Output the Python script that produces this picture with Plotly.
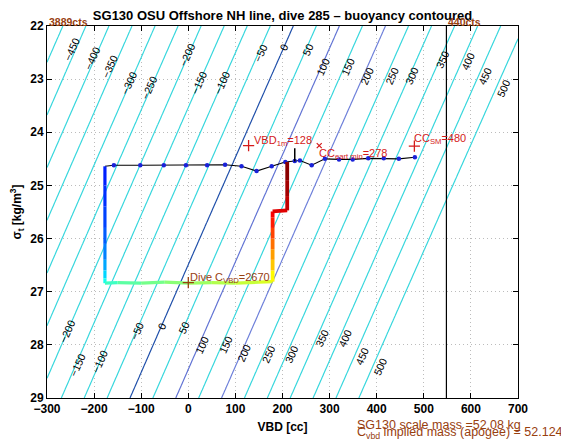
import numpy as np
import plotly.graph_objects as go

# ---------------- data ----------------
scale_mass_g = 52080.0          # SG130 scale mass
hull_volume_cc = 50736.0        # volume at VBD = 0 (from contour positions)
contour_levels = list(range(-500, 501, 50))

x_ticks = list(range(-300, 701, 100))
y_ticks = list(range(22, 30))

# contour labels: value, VBD, sigma
label_vals = [-450, -400, -350, -300, -250, -200, -150, -100, -50, 0, 50, 100, 150, 200, 250, 300, 350, 400, 450, 500,
              -200, -150, -100, -50, 0, 50, 100, 150, 200, 250, 300, 350, 400, 450, 500]
label_vbd = [-247, -204, -166, -126, -84, -3, 22, 71, 153, 203, 255, 287, 340, 379, 432, 474, 541, 594, 630, 669,
             -257, -236, -187, -109, -56, -10, 29, 79, 118, 171, 220, 284, 333, 369, 408]
label_sigma = [22.44, 22.60, 22.76, 23.07, 23.16, 22.54, 23.07, 23.07, 22.50, 22.40, 22.44, 22.76, 22.76, 22.94, 22.94,
               22.94, 22.63, 22.66, 22.94, 23.16,
               27.74, 28.37, 28.31, 27.74, 27.65, 27.68, 28.00, 28.00, 28.15, 28.18, 28.18, 27.87, 27.87, 28.21, 28.40]

# surface (black line with blue dots)
surf_vbd = [-177, -158, -102, -52, -5, 40, 78, 113, 145, 177, 206, 226, 237, 262, 290, 320, 349, 382, 415, 447, 481]
surf_sigma = [24.64, 24.62, 24.62, 24.62, 24.62, 24.62, 24.61, 24.64, 24.73, 24.64, 24.56, 24.54, 24.53, 24.62, 24.50,
              24.51, 24.51, 24.49, 24.49, 24.50, 24.47]

# dive path (descent, apogee pumping, ascent) with time fraction for colour
path_vbd = [-177, -177, -177, -177, -177, -177, -177, -177, -177,
            -150, -100, -50, 0, 50, 100, 150, 179,
            179, 179, 179, 179, 179, 179, 179,
            210, 210, 210, 210]
path_sigma = [24.64, 25.0, 25.4, 25.8, 26.1, 26.4, 26.6, 26.75, 26.84,
              26.83, 26.84, 26.82, 26.84, 26.83, 26.84, 26.82, 26.81,
              26.6, 26.4, 26.2, 26.0, 25.8, 25.6, 25.49,
              25.47, 25.2, 24.9, 24.56]
path_time = [0.15, 0.16, 0.18, 0.20, 0.23, 0.27, 0.31, 0.36, 0.42,
             0.45, 0.48, 0.50, 0.52, 0.54, 0.56, 0.58, 0.60,
             0.66, 0.70, 0.74, 0.79, 0.83, 0.87, 0.89,
             0.92, 0.95, 0.98, 1.0]

vbd_1m = 128
cc_cart_min = 278
cc_sm = 480
dive_cvbd_vbd = 0
dive_cvbd = 2670
marker_sigma = 24.25
apogee_sigma = 26.83
cts_max_vbd = 548
stick_vbd = [226, 226]
stick_sigma = [24.30, 24.55]

# ---------------- styling ----------------
FONT = "Liberation Sans, Arial, Helvetica, sans-serif"
RED = "#d41a1a"
BROWN = "#98400f"
CYAN = "#38d7dd"
DKBLUE = "#2050aa"
BLUE1 = "#6274d4"
BLUE2 = "#6e80da"

jet = [(0.0, (0, 0, 128)), (0.125, (0, 0, 255)), (0.375, (0, 255, 255)),
       (0.625, (255, 255, 0)), (0.875, (255, 0, 0)), (1.0, (128, 0, 0))]


def jet_color(t):
    for (a, ca), (b, cb) in zip(jet[:-1], jet[1:]):
        if a <= t <= b:
            f = (t - a) / (b - a)
            c = [round(ca[i] + f * (cb[i] - ca[i])) for i in range(3)]
            return f"rgb({c[0]},{c[1]},{c[2]})"
    return "rgb(128,0,0)"


fig = go.Figure()

# buoyancy contour field
gx = np.linspace(-300, 700, 201)
gy = np.linspace(22, 29, 141)
GX, GY = np.meshgrid(gx, gy)
GZ = (1 + GY / 1000.0) * (hull_volume_cc + GX) - scale_mass_g

cs = [[0, CYAN], [0.49, CYAN], [0.49, DKBLUE], [0.51, DKBLUE], [0.51, CYAN],
      [0.59, CYAN], [0.59, BLUE1], [0.61, BLUE1], [0.61, CYAN],
      [0.69, CYAN], [0.69, BLUE2], [0.71, BLUE2], [0.71, CYAN], [1, CYAN]]
fig.add_trace(go.Contour(
    x=gx, y=gy, z=GZ, zauto=False, zmin=-500, zmax=500,
    contours=dict(start=contour_levels[0], end=contour_levels[-1], size=50, coloring="lines", showlabels=False),
    colorscale=cs, showscale=False, line=dict(width=1.2), hoverinfo="skip"))

# vertical line at max counts
fig.add_trace(go.Scatter(x=[cts_max_vbd, cts_max_vbd], y=[22, 29], mode="lines",
                         line=dict(color="black", width=1.2), showlegend=False))

# surface trace
fig.add_trace(go.Scatter(x=surf_vbd, y=surf_sigma, mode="lines", line=dict(color="black", width=1.1),
                         showlegend=False))
fig.add_trace(go.Scatter(x=surf_vbd[1:], y=surf_sigma[1:], mode="markers",
                         marker=dict(color="#1a22d8", size=4.5), showlegend=False))

# dive path coloured by time
for i in range(len(path_vbd) - 1):
    t = 0.5 * (path_time[i] + path_time[i + 1])
    w = 3.2 if t < 0.62 else 3.8
    fig.add_trace(go.Scatter(x=path_vbd[i:i + 2], y=path_sigma[i:i + 2], mode="lines",
                             line=dict(color=jet_color(t), width=w), showlegend=False))

fig.add_trace(go.Scatter(x=stick_vbd, y=stick_sigma, mode="lines", line=dict(color="black", width=1.5),
                         showlegend=False))

# markers
fig.add_trace(go.Scatter(x=[vbd_1m, cc_sm], y=[marker_sigma, marker_sigma + 0.01], mode="markers",
                         marker=dict(symbol="cross-thin", size=8, line=dict(color=RED, width=1.3)),
                         showlegend=False))
fig.add_trace(go.Scatter(x=[cc_cart_min], y=[marker_sigma], mode="markers",
                         marker=dict(symbol="x-thin", size=5, line=dict(color=RED, width=1.2)),
                         showlegend=False))
fig.add_trace(go.Scatter(x=[dive_cvbd_vbd], y=[apogee_sigma], mode="markers",
                         marker=dict(symbol="cross-thin", size=8, line=dict(color=BROWN, width=1.3)),
                         showlegend=False))

ann = []
for v, xv, yv in zip(label_vals, label_vbd, label_sigma):
    ann.append(dict(x=xv, y=yv, xref="x", yref="y", text=str(v).replace("-", "\u2212"), showarrow=False,
                    textangle=-66, font=dict(family=FONT, size=10.5, color="black")))

ann += [
    dict(x=vbd_1m, y=24.17, xref="x", yref="y", xanchor="left", yanchor="middle", xshift=3,
         text=f"VBD<sub>1m</sub>={vbd_1m}", showarrow=False, font=dict(family=FONT, size=11, color=RED)),
    dict(x=cc_cart_min, y=24.40, xref="x", yref="y", xanchor="left", yanchor="middle", xshift=-2,
         text=f"CC<sub>eart min</sub>={cc_cart_min}", showarrow=False, font=dict(family=FONT, size=11, color=RED)),
    dict(x=cc_sm, y=24.12, xref="x", yref="y", xanchor="left", yanchor="middle", xshift=-2,
         text=f"CC<sub>SM</sub>={cc_sm}", showarrow=False, font=dict(family=FONT, size=11, color=RED)),
    dict(x=dive_cvbd_vbd, y=26.75, xref="x", yref="y", xanchor="left", yanchor="middle", xshift=0,
         text=f"Dive C<sub>VBD</sub>={dive_cvbd}", showarrow=False, font=dict(family=FONT, size=11, color=BROWN)),
    dict(x=-300, y=22, xref="x", yref="y", xanchor="left", yanchor="bottom", yshift=-4,
         text="<b>3889cts</b>", showarrow=False, font=dict(family=FONT, size=10.5, color=BROWN)),
    dict(x=cts_max_vbd, y=22, xref="x", yref="y", xanchor="left", yanchor="bottom", yshift=-4,
         text="<b>440cts</b>", showarrow=False, font=dict(family=FONT, size=10.5, color=BROWN)),
    dict(x=354, y=-27 / 372, xref="x", yref="paper", xanchor="left", yanchor="middle",
         text="SG130 scale mass =52.08 kg", showarrow=False, font=dict(family=FONT, size=12.5, color=BROWN)),
    dict(x=354, y=-35 / 372, xref="x", yref="paper", xanchor="left", yanchor="middle",
         text="C<sub>vbd</sub> implied mass (apogee) = 52.124 kg", showarrow=False,
         font=dict(family=FONT, size=12.5, color=BROWN)),
]

# the page body adds an 8px offset, so the figure is sized to end at the window edge
fig.update_layout(
    width=561, height=434,
    margin=dict(l=39, r=51, t=18, b=44),
    paper_bgcolor="white", plot_bgcolor="white",
    showlegend=False,
    font=dict(family=FONT, color="black"),
    title=dict(text="<b>SG130 OSU Offshore NH line, dive 285 \u2013 buoyancy contoured</b>",
               x=0.5, xanchor="center", xref="paper", y=1 - 7.5 / 434, yanchor="middle",
               font=dict(family=FONT, size=13, color="black")),
    annotations=ann,
)
axis_common = dict(showline=True, linecolor="black", linewidth=1, mirror="ticks", ticks="inside", ticklen=5,
                   tickcolor="black", showgrid=True, gridcolor="#bcbcbc", griddash="1px,3px", gridwidth=1,
                   zeroline=False, automargin=False, tickfont=dict(family=FONT, size=12, color="black"))
fig.update_xaxes(range=[-300, 700], tickvals=x_ticks,
                 ticktext=[f"<b>{str(v).replace('-', chr(8722))}</b>" for v in x_ticks], **axis_common,
                 title=dict(text="<b>VBD [cc]</b>", font=dict(family=FONT, size=12), standoff=7))
fig.update_yaxes(range=[29, 22], tickvals=y_ticks, ticktext=[f"<b>{v}</b>" for v in y_ticks], **axis_common,
                 title=dict(text="<b>\u03c3<sub>t</sub> [kg/m<sup>3</sup>]</b>", font=dict(family=FONT, size=12),
                            standoff=6))

fig.write_html("out.html")
